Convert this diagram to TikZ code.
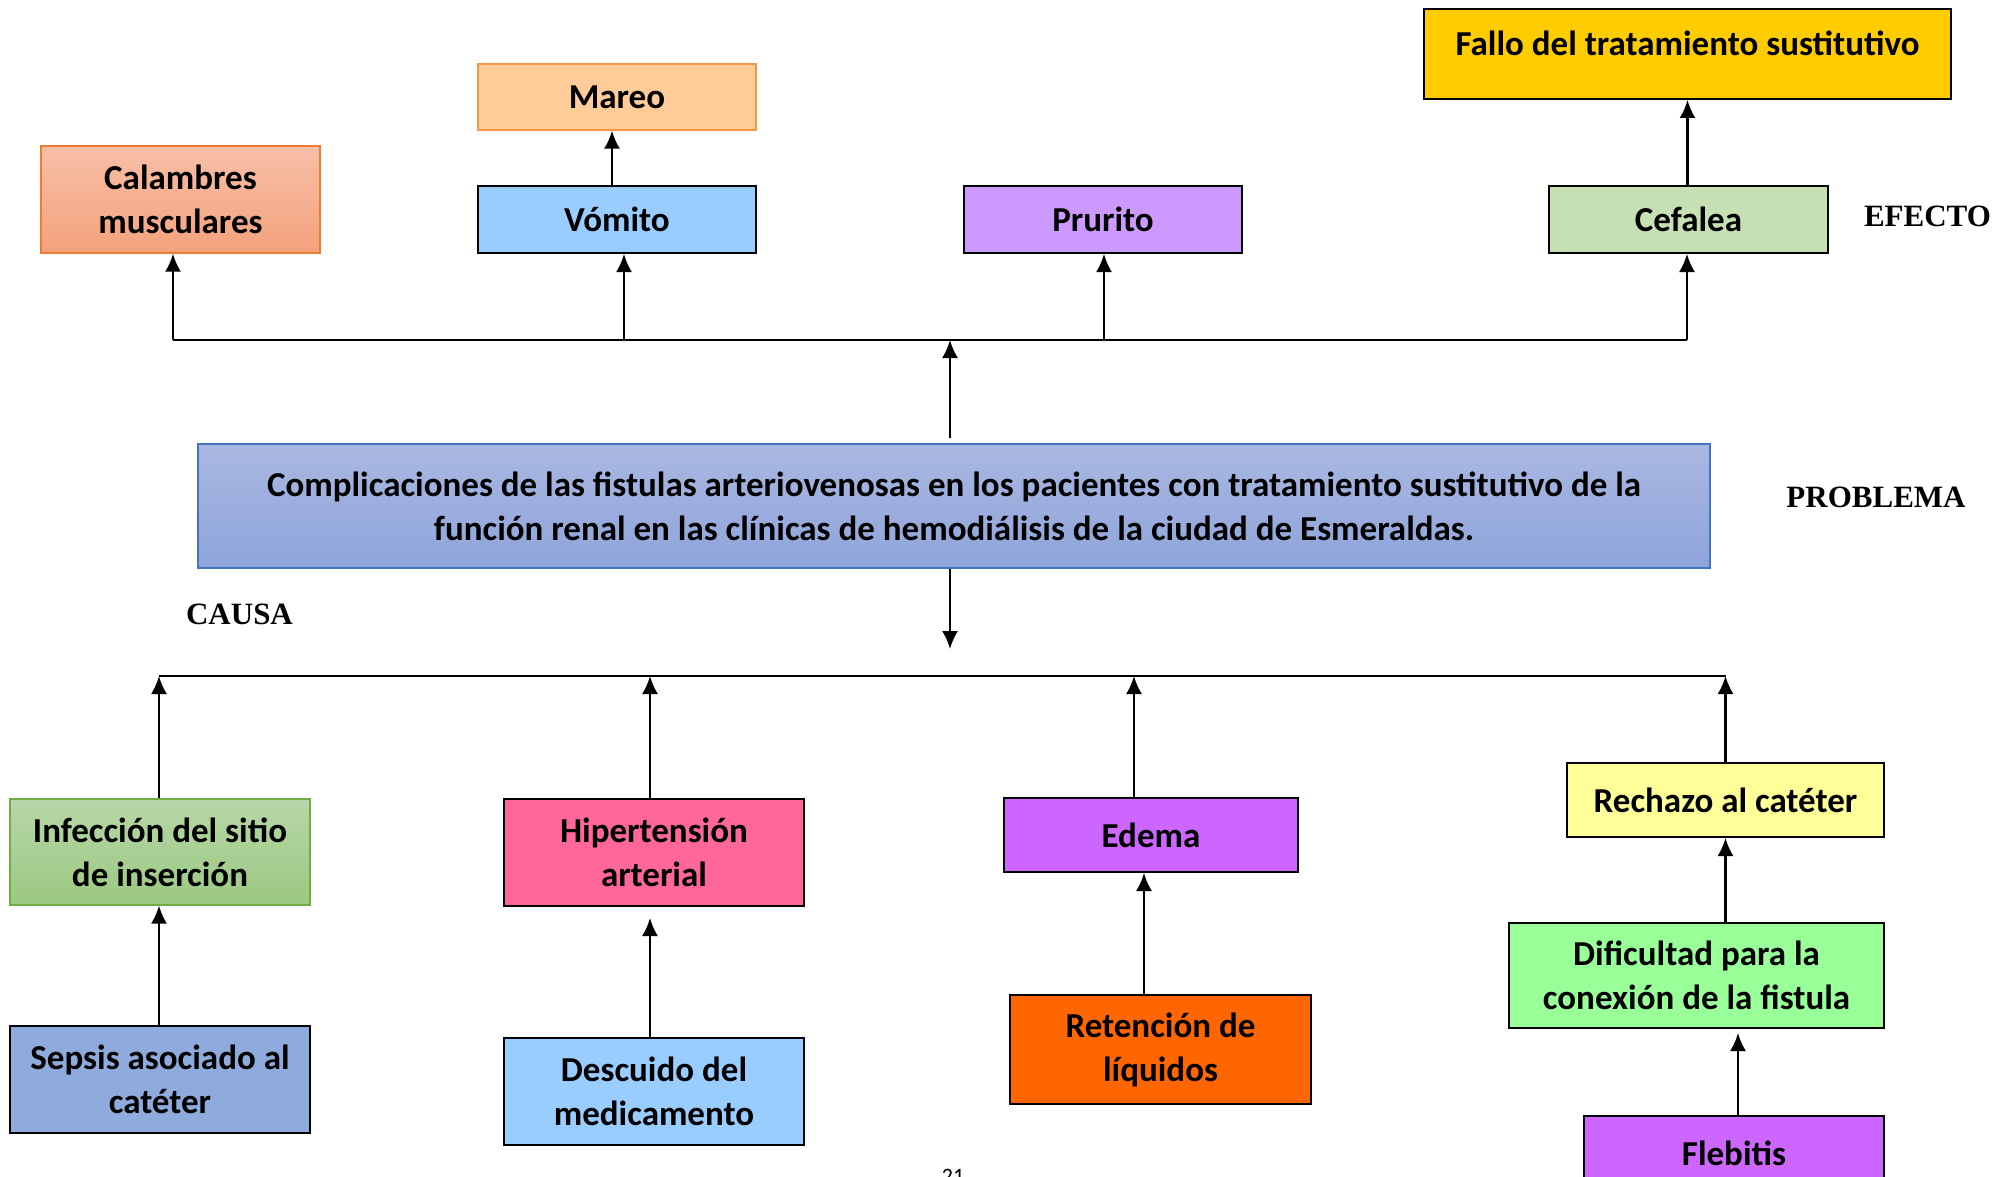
\documentclass[tikz,border=0pt]{standalone}
\usepackage{fontspec}
\setmainfont{Carlito}
\newfontfamily\labfont{Liberation Serif}
\usetikzlibrary{arrows.meta}

\definecolor{calTop}{HTML}{F7BFA7}
\definecolor{calBot}{HTML}{F4A27C}
\definecolor{calLine}{HTML}{ED7D31}
\definecolor{mareoFill}{HTML}{FFCC99}
\definecolor{mareoLine}{HTML}{F79646}
\definecolor{skyFill}{HTML}{99CCFF}
\definecolor{lilacFill}{HTML}{CC99FF}
\definecolor{sageFill}{HTML}{C6E0B4}
\definecolor{goldFill}{HTML}{FFCC00}
\definecolor{probTop}{HTML}{AAB8E1}
\definecolor{probBot}{HTML}{8EA4DB}
\definecolor{probLine}{HTML}{4472C4}
\definecolor{infTop}{HTML}{B7D7A8}
\definecolor{infBot}{HTML}{9BC881}
\definecolor{infLine}{HTML}{70AD47}
\definecolor{sepsisFill}{HTML}{8FAADC}
\definecolor{pinkFill}{HTML}{FF6699}
\definecolor{violetFill}{HTML}{CC66FF}
\definecolor{orangeFill}{HTML}{FF6600}
\definecolor{lemonFill}{HTML}{FFFF99}
\definecolor{mintFill}{HTML}{99FF99}

\begin{document}
\begin{tikzpicture}[x=0.5pt,y=-0.5pt,
    box/.style={draw=black, line width=1pt, inner sep=0pt, align=center,
      font=\fontsize{17.5pt}{22pt}\selectfont\bfseries},
    txt/.style={inner sep=0pt, align=center, font=\fontsize{17.5pt}{22pt}\selectfont\bfseries},
    arr/.style={-{Latex[length=9pt,width=8pt]}, line width=1.1pt},
    lab/.style={inner sep=0pt, font=\labfont\bfseries\fontsize{15.5pt}{18pt}\selectfont}]
    \useasboundingbox (0,0) rectangle (2010,1177);

    \def\ebus{340}
    \def\cbus{676}

    % efectos
    \node[box, draw=calLine, line width=0.7pt, top color=calTop, bottom color=calBot,
      minimum width=139.5pt, minimum height=53.5pt] (calambres) at (180.5,199.5) {Calambres\\musculares};
    \node[box, draw=mareoLine, line width=0.7pt, fill=mareoFill,
      minimum width=139pt, minimum height=33pt] (mareo) at (617,97) {Mareo};
    \node[box, fill=skyFill, minimum width=139pt, minimum height=33.5pt] (vomito) at (617,219.5) {Vómito};
    \node[box, fill=lilacFill, minimum width=139pt, minimum height=33.5pt] (prurito) at (1103,219.5) {Prurito};
    \node[box, fill=sageFill, minimum width=139.5pt, minimum height=33.5pt] (cefalea) at (1688.5,219.5) {Cefalea};
    \node[box, fill=goldFill, minimum width=263.5pt, minimum height=45pt] (fallo) at (1687.5,54) {};
    \node[txt] (fallo-txt) at (1687.5,43) {Fallo del tratamiento sustitutivo};

    % problema
    \node[box, draw=probLine, line width=0.6pt, top color=probTop, bottom color=probBot,
      minimum width=756pt, minimum height=62pt] (problema) at (954,506)
      {Complicaciones de las fistulas arteriovenosas en los pacientes con tratamiento sustitutivo de la\\
       función renal en las clínicas de hemodiálisis de la ciudad de Esmeraldas.};

    % causas
    \node[box, draw=infLine, line width=0.6pt, top color=infTop, bottom color=infBot,
      minimum width=150pt, minimum height=53pt] (infeccion) at (160,852) {Infección del sitio\\de inserción};
    \node[box, fill=sepsisFill, minimum width=150pt, minimum height=53.5pt] (sepsis) at (160,1079.5) {Sepsis asociado al\\catéter};
    \node[box, fill=pinkFill, minimum width=150pt, minimum height=53.5pt] (hiper) at (654,852.5) {Hipertensión\\arterial};
    \node[box, fill=skyFill, minimum width=150pt, minimum height=53.5pt] (descuido) at (654,1091.5) {Descuido del\\medicamento};
    \node[box, fill=violetFill, minimum width=147pt, minimum height=37pt] (edema) at (1151,835) {Edema};
    \node[box, fill=orangeFill, minimum width=150.5pt, minimum height=54.5pt] (retencion) at (1160.5,1049.5) {Retención de\\líquidos};
    \node[box, fill=lemonFill, minimum width=158.5pt, minimum height=37pt] (rechazo) at (1725.5,800) {Rechazo al catéter};
    \node[box, fill=mintFill, minimum width=187.5pt, minimum height=52.5pt] (dificultad) at (1696.5,975.5) {Dificultad para la\\conexión de la fistula};
    \node[box, fill=violetFill, minimum width=150pt, minimum height=37pt] (flebitis) at (1734,1153) {Flebitis};

    % rotulos
    \node[lab] (efecto) at (1927.5,216) {EFECTO};
    \node[lab] (problema-lab) at (1876,497) {PROBLEMA};
    \node[lab] (causa) at (239.5,614) {CAUSA};
    \node[inner sep=0pt, anchor=north, font=\fontsize{11pt}{13pt}\selectfont] (pagina) at (953,1169) {21};

    \coordinate (eb) at (950,\ebus);
    \coordinate (cb) at (950,\cbus);
    \coordinate (cdown) at (950,649);
    \coordinate (desc-end) at (650,918);
    \coordinate (fleb-end) at (1738,1033);

    % lineas de efecto
    \draw[line width=1.1pt] ([xshift=-3.75pt]calambres.south |- eb) -- ([xshift=-0.75pt]cefalea.south |- eb);
    \foreach \n/\s in {calambres/-3.75pt, vomito/3.5pt, prurito/0.5pt, cefalea/-0.75pt}
        \draw[arr] ([xshift=\s]\n.south |- eb) -- ([xshift=\s]\n.south);
    \draw[arr] ([xshift=-2.5pt]vomito.north) -- ([xshift=-2.5pt]mareo.south);
    \draw[arr] (cefalea.north -| fallo.south) -- (fallo.south);
    \draw[arr] ([yshift=2.5pt]problema.north -| eb) -- (eb);

    % lineas de causa
    \draw[arr] (problema.south -| cdown) -- (cdown);
    \draw[line width=1.1pt] ([xshift=-0.5pt]infeccion.north |- cb) -- (rechazo.north |- cb);
    \foreach \n/\s in {infeccion/-0.5pt, hiper/-2pt, edema/-8.5pt, rechazo/0pt}
        \draw[arr] ([xshift=\s]\n.north) -- ([xshift=\s]\n.north |- cb);
    \draw[arr] ([xshift=-0.5pt]sepsis.north) -- ([xshift=-0.5pt]infeccion.south);
    \draw[arr] (descuido.north -| desc-end) -- (desc-end);
    \draw[arr] ([xshift=-8.25pt]retencion.north) -- ([xshift=-3.5pt]edema.south);
    \draw[arr] (dificultad.north -| rechazo.south) -- (rechazo.south);
    \draw[arr] (flebitis.north -| fleb-end) -- (fleb-end);
\end{tikzpicture}
\end{document}
